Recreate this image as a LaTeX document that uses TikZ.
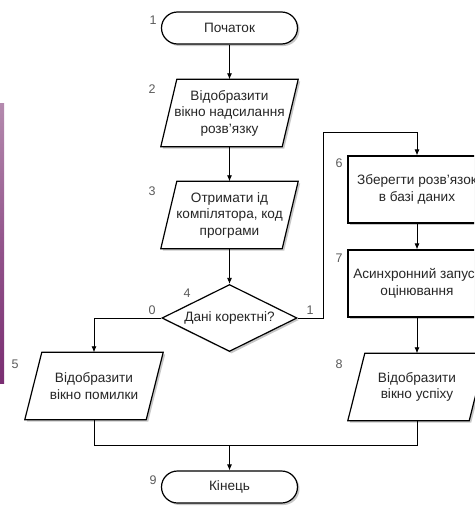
\documentclass[tikz,border=0pt]{standalone}
\usepackage{fontspec}
\setmainfont{Liberation Sans}
\usetikzlibrary{shapes.geometric,arrows.meta,shadows,backgrounds}

\definecolor{ink}{HTML}{262626}
\definecolor{numgrey}{HTML}{5A5A5A}
\definecolor{slidetop}{HTML}{B48AAE}
\definecolor{slidemid}{HTML}{93558C}
\definecolor{slidebot}{HTML}{7A2E72}

\tikzset{
  x=1pt, y=-1pt,
  every node/.style={font=\fontsize{13.6}{16.5}\selectfont, text=ink},
  body/.style={inner sep=0pt, align=center, minimum width=121pt, minimum height=67pt},
  shadowed/.style={drop shadow={shadow xshift=2pt, shadow yshift=-2pt, fill=black, opacity=0.22}},
  outline/.style={draw=black, line width=1.2pt, fill=white, shadowed},
  terminal/.style={outline, rounded corners=16pt, minimum width=136pt, minimum height=32pt, inner sep=0pt},
  process/.style={outline, rectangle, minimum width=138pt, minimum height=67pt, inner sep=0pt, align=center},
  decision/.style={outline, diamond, minimum width=135pt, minimum height=67pt, inner sep=0pt, aspect=2},
  link/.style={draw=black, line width=0.8pt},
  flow/.style={link, -{Latex[length=6pt,width=5pt]}},
  num/.style={font=\fontsize{12.5}{14}\selectfont, text=numgrey, inner sep=0pt},
}

% parallelogram (input/output) drawn around a text node
\newcommand\ioshape[2]{%
  \draw[outline] ([xshift=#2/2]#1.north west) -- ([xshift=#2/2]#1.north east)
    -- ([xshift=-#2/2]#1.south east) -- ([xshift=-#2/2]#1.south west) -- cycle;}

\begin{document}
\begin{tikzpicture}
\useasboundingbox (0,0) rectangle (474,506);
\clip (0,0) rectangle (474,506);

% edge of the slide background
\shade[top color=slidetop, bottom color=slidebot, middle color=slidemid]
  (0,103) rectangle (4,383);

% blocks
\node[terminal] (t1) at (229.5,28) {Початок};
\node[body] (b2) at (229.5,113) {Відобразити\\вікно надсилання\\розв'язку};
\node[body] (b3) at (229.5,215) {Отримати ід\\компілятора, код\\програми};
\node[decision] (d4) at (229.5,318) {Дані коректні?};
\node[body] (b5) at (94,386) {Відобразити\\вікно помилки};
\node[process] (b6) at (417,189.5) {Зберегти розв'язок\\в базі даних};
\node[process] (b7) at (417,283.5) {Асинхронний запуск\\оцінювання};
\node[body] (b8) at (417,387) {Відобразити\\вікно успіху};
\node[terminal] (t9) at (229.5,487) {Кінець};

\begin{scope}[on background layer]
  \ioshape{b2}{16pt}
  \ioshape{b3}{16pt}
  \ioshape{b5}{17pt}
  \ioshape{b8}{17pt}
\end{scope}

% block numbers
\node[num] (n1) at (153,20) {1};
\node[num] (n2) at (152,89) {2};
\node[num] (n3) at (152,191) {3};
\node[num] (n4) at (187,293) {4};
\node[num] (n5) at (15,364) {5};
\node[num] (n6) at (339,163) {6};
\node[num] (n7) at (339,258) {7};
\node[num] (n8) at (339,364) {8};
\node[num] (n9) at (153,480) {9};
\node[num] (no) at (152,310) {0};
\node[num] (yes) at (310,310) {1};

% connectors
\coordinate (yesturn) at (323,132);
\coordinate (m) at (229.5,445);
\draw[flow] (t1) -- (b2);
\draw[flow] (b2) -- (b3);
\draw[flow] (b3) -- (d4);
\draw[flow] (d4.west) -| (b5.north);
\draw[flow] (d4.east) -| (yesturn) -| (b6.north);
\draw[flow] (b6) -- (b7);
\draw[flow] (b7) -- (b8);
\draw[link] (b5.south) |- (m);
\draw[link] (b8.south) |- (m);
\draw[flow] (m) -- (t9);
\end{tikzpicture}
\end{document}
